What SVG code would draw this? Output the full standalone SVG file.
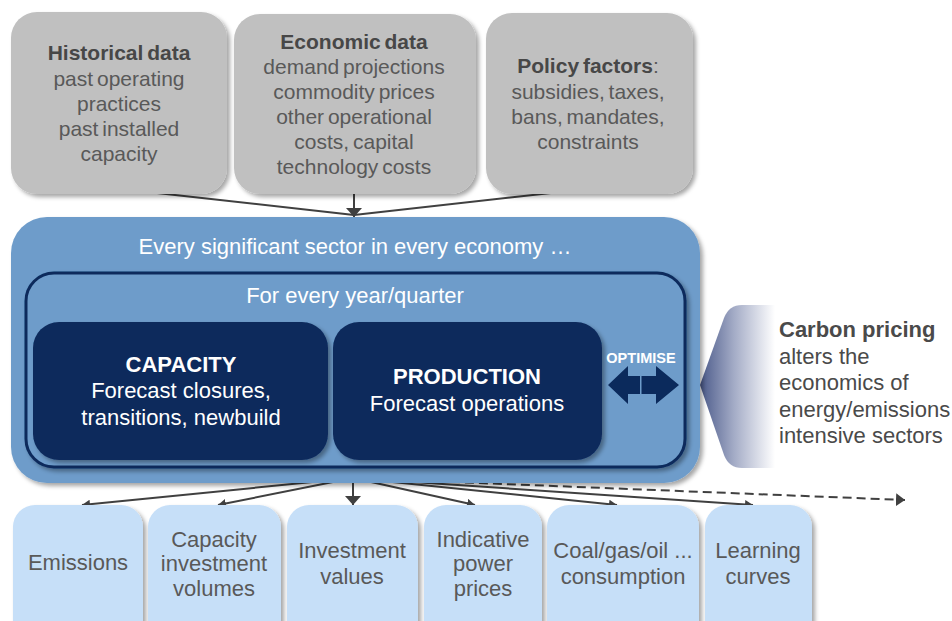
<svg xmlns="http://www.w3.org/2000/svg" width="952" height="621" viewBox="0 0 952 621">
<defs>
<style>
text{font-family:"Liberation Sans",Arial,sans-serif;text-anchor:middle}
.top{font-size:21px;fill:#595959;word-spacing:-2px}
.topb{font-weight:bold;fill:#474747}
.gray{fill:#C0C0C0}
.wt{font-size:22px;fill:#FFFFFF}
.b{font-weight:bold}
.card{fill:#0B2A5C}
.out{fill:#C6DFF8}
.bt{font-size:22px;fill:#595959}
.cp{font-size:22px;fill:#4A4A4A;text-anchor:start}
.ln{stroke:#404040;stroke-width:2;fill:none}
</style>
<filter id="sh" x="-10%" y="-10%" width="125%" height="130%">
<feDropShadow dx="3" dy="3" stdDeviation="2.2" flood-color="#000" flood-opacity="0.35"/>
</filter>
<linearGradient id="cg" x1="700" y1="0" x2="775" y2="0" gradientUnits="userSpaceOnUse">
<stop offset="0" stop-color="#4B5A8A"/>
<stop offset="0.45" stop-color="#A3ABC6"/>
<stop offset="1" stop-color="#FFFFFF"/>
</linearGradient>
<marker id="ah" viewBox="0 0 8 9" refX="8" refY="4.5" markerWidth="8" markerHeight="9" markerUnits="userSpaceOnUse" orient="auto">
<path d="M0,0 L8,4.5 L0,9 Z" fill="#404040"/>
</marker>
<marker id="ahb" viewBox="0 0 9 16" refX="9" refY="8" markerWidth="9" markerHeight="16" markerUnits="userSpaceOnUse" orient="auto">
<path d="M0,0 L9,8 L0,16 Z" fill="#404040"/>
</marker>
<marker id="ahd" viewBox="0 0 9 13" refX="9" refY="6.5" markerWidth="9" markerHeight="13" markerUnits="userSpaceOnUse" orient="auto">
<path d="M0,0 L9,6.5 L0,13 Z" fill="#404040"/>
</marker>
</defs>
<rect width="952" height="621" fill="#FFFFFF"/>

<g id="connectors">
<line class="ln" x1="130" y1="190" x2="354" y2="215"/>
<line class="ln" x1="578" y1="190" x2="354" y2="215"/>
<line class="ln" x1="354" y1="190" x2="354" y2="217" marker-end="url(#ahb)"/>
<line class="ln" x1="353" y1="478" x2="82" y2="505" marker-end="url(#ah)"/>
<line class="ln" x1="353" y1="478" x2="218" y2="505" marker-end="url(#ah)"/>
<line class="ln" x1="353" y1="478" x2="353" y2="505" marker-end="url(#ahb)"/>
<line class="ln" x1="353" y1="478" x2="475" y2="505" marker-end="url(#ah)"/>
<line class="ln" x1="353" y1="478" x2="617" y2="505" marker-end="url(#ah)"/>
<line class="ln" x1="353" y1="478" x2="753" y2="505" marker-end="url(#ah)"/>
<line class="ln" x1="353" y1="478" x2="905" y2="500" stroke-dasharray="9 5" marker-end="url(#ahd)"/>
</g>

<g id="historical">
<rect class="gray" x="11" y="12" width="216" height="182" rx="26" filter="url(#sh)"/>
<text class="top topb" x="119" y="60">Historical data</text>
<text class="top" x="119" y="86">past operating</text>
<text class="top" x="119" y="111">practices</text>
<text class="top" x="119" y="136">past installed</text>
<text class="top" x="119" y="161">capacity</text>
</g>

<g id="economic">
<rect class="gray" x="234" y="14" width="242" height="180" rx="26" filter="url(#sh)"/>
<text class="top topb" x="354" y="49">Economic data</text>
<text class="top" x="354" y="74">demand projections</text>
<text class="top" x="354" y="99">commodity prices</text>
<text class="top" x="354" y="124">other operational</text>
<text class="top" x="354" y="149">costs, capital</text>
<text class="top" x="354" y="174">technology costs</text>
</g>

<g id="policy">
<rect class="gray" x="486" y="13" width="207" height="181" rx="26" filter="url(#sh)"/>
<text class="top" x="588" y="73"><tspan class="topb">Policy factors</tspan>:</text>
<text class="top" x="588" y="99">subsidies, taxes,</text>
<text class="top" x="588" y="124">bans, mandates,</text>
<text class="top" x="588" y="149">constraints</text>
</g>

<g id="carbon">
<path d="M742,305 Q729,305 724,318 L700,385 L724,455 Q729,468 742,468 L800,468 L800,305 Z" fill="url(#cg)"/>
<text class="cp b" x="779" y="337">Carbon pricing</text>
<text class="cp" x="779" y="364">alters the</text>
<text class="cp" x="779" y="390">economics of</text>
<text class="cp" x="779" y="417">energy/emissions</text>
<text class="cp" x="779" y="443">intensive sectors</text>
</g>

<g id="sector">
<rect x="11" y="217" width="689" height="266" rx="36" fill="#6E9CCA" filter="url(#sh)"/>
<text class="wt" x="355" y="254">Every significant sector in every economy …</text>
</g>

<g id="year">
<rect x="26" y="273" width="659" height="194" rx="28" fill="#6E9CCA" stroke="#0B2A5C" stroke-width="3" filter="url(#sh)"/>
<text class="wt" x="355" y="303">For every year/quarter</text>
</g>

<g id="capacity">
<rect class="card" x="33" y="322" width="295" height="138" rx="26" filter="url(#sh)"/>
<text class="wt b" x="181" y="372">CAPACITY</text>
<text class="wt" x="181" y="398">Forecast closures,</text>
<text class="wt" x="181" y="425">transitions, newbuild</text>
</g>

<g id="production">
<rect class="card" x="333" y="322" width="269" height="138" rx="26" filter="url(#sh)"/>
<text class="wt b" x="467" y="384">PRODUCTION</text>
<text class="wt" x="467" y="411">Forecast operations</text>
</g>

<g id="optimise">
<text x="641" y="363" font-size="14.5" font-weight="bold" fill="#FFFFFF">OPTIMISE</text>
<polygon class="card" points="640,376 628,376 628,366 608,385 628,404 628,394 640,394"/>
<polygon class="card" points="641.5,376 656,376 656,366 679,385 656,404 656,394 641.5,394"/>
</g>

<g id="emissions">
<rect class="out" x="13" y="505" width="130" height="140" rx="22" filter="url(#sh)"/>
<text class="bt" x="78" y="570">Emissions</text>
</g>
<g id="capvol">
<rect class="out" x="148" y="505" width="133" height="140" rx="22" filter="url(#sh)"/>
<text class="bt" x="214" y="547">Capacity</text>
<text class="bt" x="214" y="571">investment</text>
<text class="bt" x="214" y="596">volumes</text>
</g>
<g id="invval">
<rect class="out" x="287" y="505" width="131" height="140" rx="22" filter="url(#sh)"/>
<text class="bt" x="352" y="558">Investment</text>
<text class="bt" x="352" y="584">values</text>
</g>
<g id="power">
<rect class="out" x="424" y="505" width="118" height="140" rx="22" filter="url(#sh)"/>
<text class="bt" x="483" y="547">Indicative</text>
<text class="bt" x="483" y="571">power</text>
<text class="bt" x="483" y="596">prices</text>
</g>
<g id="fuel">
<rect class="out" x="547" y="505" width="152" height="140" rx="22" filter="url(#sh)"/>
<text class="bt" x="623" y="558">Coal/gas/oil ...</text>
<text class="bt" x="623" y="584">consumption</text>
</g>
<g id="learning">
<rect class="out" x="705" y="505" width="107" height="140" rx="22" filter="url(#sh)"/>
<text class="bt" x="758" y="558">Learning</text>
<text class="bt" x="758" y="584">curves</text>
</g>
</svg>
